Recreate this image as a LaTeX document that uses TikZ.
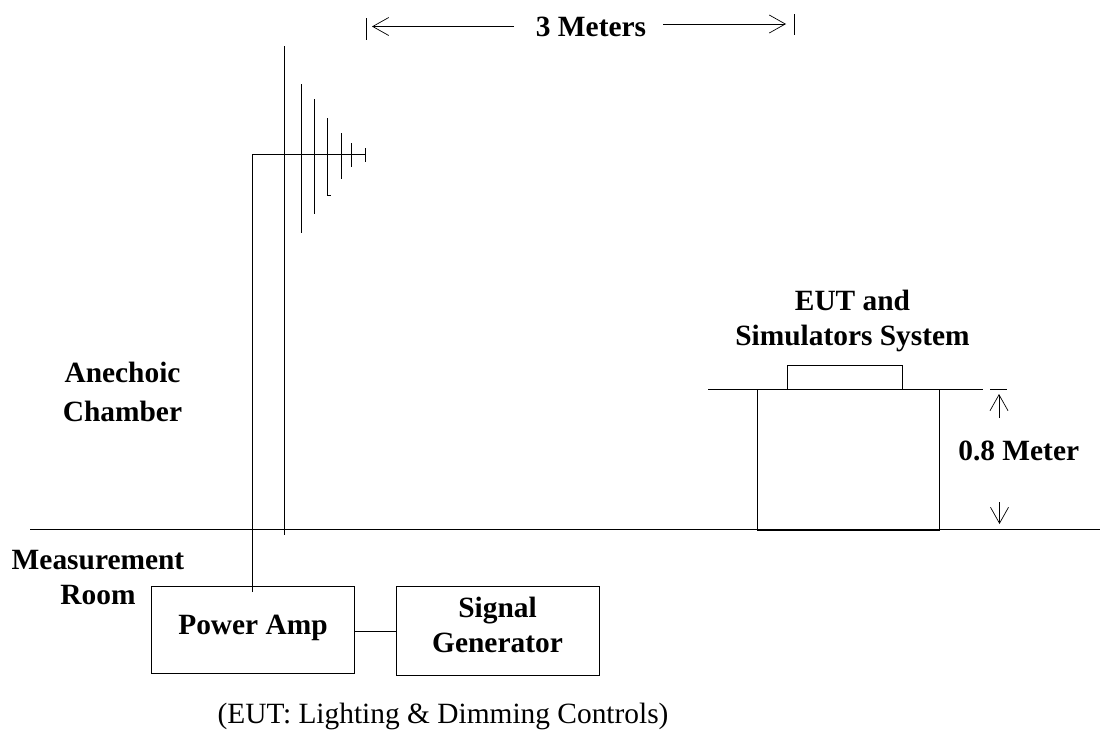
\documentclass[tikz,border=0pt]{standalone}
\usepackage{fontspec}
\setmainfont{Liberation Serif}
\usetikzlibrary{arrows.meta}
\tikzset{
  wire/.style={line width=0.9pt},
  dimarrow/.style={line width=0.7pt,-{Straight Barb[length=16pt,width=18pt,line width=0.7pt]}},
  label/.style={font=\fontsize{29.4}{34.3}\selectfont\bfseries,align=center,inner sep=0pt,anchor=base},
  unitbox/.style={draw,line width=0.9pt,inner sep=0pt}
}
\begin{document}
\begin{tikzpicture}[x=1pt,y=-1pt]
        \useasboundingbox (0,0) rectangle (1100,729);
        % Rooms
        \coordinate (floorL) at (30,529);
        \coordinate (floorR) at (1100,529);
        \draw[wire] (floorL) -- (floorR);
        \node[label] (chamber) at (122.5,421) {Anechoic\\[4.2pt]Chamber};
        \node[label] (room) at (98,604) {Measurement\\Room};
        % Antenna
        \coordinate (mastT) at (284.5,46);
        \coordinate (mastB) at (284.5,535);
        \coordinate (feedT) at (252,154);
        \coordinate (feedB) at (252,592);
        \coordinate (tip) at (365,154);
        \draw[wire] (mastT) -- (mastB);
        \draw[wire] (feedB) -- (feedT) -- (tip);
        \draw[wire] (301,84) -- (301,233);
        \draw[wire] (314,99) -- (314,214);
        \draw[wire] (327,118) -- (327,195) -- (330.5,195);
        \draw[wire] (341,133) -- (341,179);
        \draw[wire] (351.5,143) -- (351.5,167);
        \draw[wire] (365,148) -- (365,162);
        % Boxes
        \node[unitbox,minimum width=203pt,minimum height=87pt] (amp) at (252.5,630) {};
        \node[label] (ampText) at (253,634) {Power Amp};
        \node[unitbox,minimum width=203pt,minimum height=89pt] (gen) at (498,630.5) {};
        \node[label] (genText) at (497.5,652) {Signal\\Generator};
        \draw[wire] (amp.east |- 0,631) -- (gen.west |- 0,631);
        \node[font=\fontsize{29.4}{34}\selectfont,inner sep=0pt,anchor=base] (note) at (443,723) {(EUT: Lighting \& Dimming Controls)};
        % Table
        \node[unitbox,minimum width=182pt,minimum height=141pt] (table) at (848,460) {};
        \node[unitbox,minimum width=115.5pt,minimum height=24pt] (eut) at (845,377.5) {};
        \coordinate (topL) at (708,389.5);
        \coordinate (topR) at (983,389.5);
        \draw[wire] (topL) -- (topR);
        \draw[wire] (990,389) -- (1007,389);
        \node[label] (eutText) at (852.5,345) {EUT and\\Simulators System};
        % Dimensions
        \node[label] (height) at (1018.7,460) {0.8 Meter};
        \coordinate (upS) at (999,418);
        \coordinate (upE) at (999,394);
        \coordinate (dnS) at (999.5,502);
        \coordinate (dnE) at (999.5,524);
        \draw[dimarrow] (upS) -- (upE);
        \draw[dimarrow] (dnS) -- (dnE);
        \node[label] (dist) at (591,36.7) {3 Meters};
        \coordinate (leftS) at (514,26.5);
        \coordinate (leftE) at (372,26.5);
        \coordinate (rightS) at (663,24);
        \coordinate (rightE) at (786,24);
        \draw[dimarrow] (leftS) -- (leftE);
        \draw[dimarrow] (rightS) -- (rightE);
        \draw[wire] (366.5,18) -- (366.5,40);
        \draw[wire] (794,14) -- (794,35);
    \end{tikzpicture}
\end{document}
